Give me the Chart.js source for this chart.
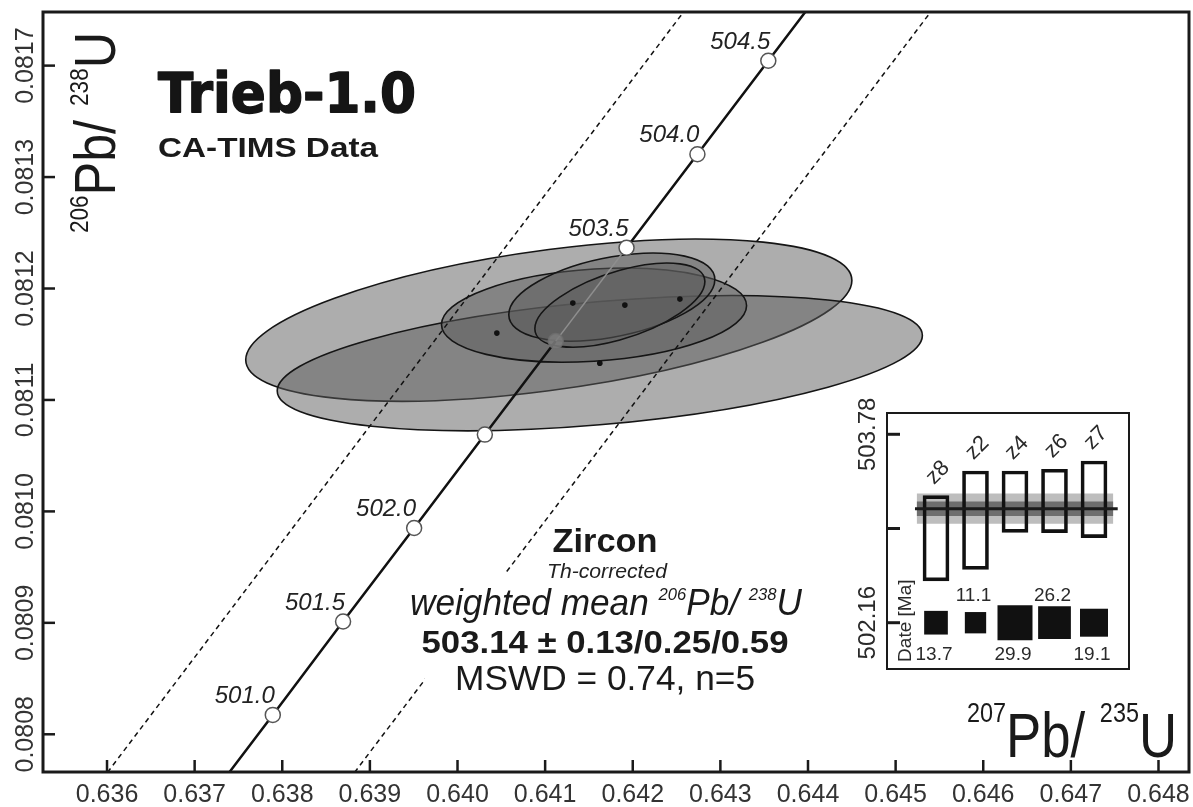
<!DOCTYPE html>
<html><head><meta charset="utf-8">
<script src="https://cdn.jsdelivr.net/npm/chart.js@4.4.0/dist/chart.umd.min.js"></script>
<style>
html,body{margin:0;padding:0;background:#fff;}
#wrap{position:relative;width:1193px;height:807px;overflow:hidden;}
#main{position:absolute;left:0;top:0;}
#inset{position:absolute;left:845px;top:395px;}
</style></head><body>
<div id="wrap"><canvas id="main" width="1193" height="807"></canvas><canvas id="inset" width="286" height="276"></canvas></div>
<script>
// ---------- data ----------
const xTickVals = [0.636,0.637,0.638,0.639,0.640,0.641,0.642,0.643,0.644,0.645,0.646,0.647,0.648];
const xTickLabels = ['0.636','0.637','0.638','0.639','0.640','0.641','0.642','0.643','0.644','0.645','0.646','0.647','0.648'];
const yTickVals = [0.0808,0.0809,0.0810,0.0811,0.0812,0.0813,0.0814];
const yTickLabels = ['0.0808','0.0809','0.0810','0.0811','0.0812','0.0813','0.0817'];

// concordia (age in Ma, 207Pb/235U, 206Pb/238U)
const concAges = [500.5,501.0,501.5,502.0,502.5,503.0,503.5,504.0,504.5,505.0];
const concX = [0.637085,0.637892,0.638694,0.639505,0.640312,0.641121,0.641929,0.642738,0.643547,0.644357];
const concY = [0.0807336,0.0808174,0.0809012,0.0809851,0.0810689,0.0811528,0.0812366,0.0813205,0.0814044,0.0814883];
const concLabels = ['','501.0','501.5','502.0','','','503.5','504.0','504.5',''];

// decay-constant envelope
const envLoX = [0.635695,0.642967];
const envLoY = [0.0807336,0.0814883];
const envHiX = [0.638515,0.645787];
const envHiY = [0.0807336,0.0814883];

// error ellipses: centre, half-extent in x and y, correlation
const ellX   = [0.641042,0.641624,0.641558,0.641761,0.641853];
const ellY   = [0.0811716,0.0811330,0.0811761,0.0811923,0.0811851];
const ellSX  = [0.0034589,0.0036815,0.0017409,0.0011758,0.0009703];
const ellSY  = [0.0000727,0.0000606,0.0000422,0.0000395,0.0000377];
const ellRho = [0.49,0.41,0.20,0.40,0.56];

// plotted centre points
const ptX = [0.640449,0.641316,0.641910,0.642538,0.641624];
const ptY = [0.0811600,0.0811869,0.0811851,0.0811905,0.0811330];

// inset: weighted mean plot
const grains = ['z8','z2','z4','z6','z7'];
const grainPos = [1,2,3,4,5];
const dateLo = [502.519,502.619,502.937,502.934,502.891];
const dateHi = [503.252,503.464,503.464,503.479,503.550];
const weights = [13.7,11.1,29.9,26.2,19.1];
const weightLabels = ['13.7','11.1','29.9','26.2','19.1'];
const meanAge = 503.14;
const bandInner = 0.062;
const bandOuter = 0.13;
const insetTickVals = [502.16,502.97,503.78];
const insetTickLabels = ['502.16','','503.78'];

// ---------- drawing ----------
const FAM = "'Liberation Sans', Arial, Helvetica, sans-serif";
Chart.defaults.font.family = FAM;

function fitText(ctx, text, x, y, width, font, align, color){
  ctx.save(); ctx.font = font;
  const w = ctx.measureText(text).width;
  ctx.translate(x, y); ctx.scale(width / w, 1);
  ctx.textAlign = align || 'left'; ctx.textBaseline = 'alphabetic';
  ctx.fillStyle = color || '#1a1a1a'; ctx.fillText(text, 0, 0);
  ctx.restore();
}
function richText(ctx, parts, x, y, width, rot, color){
  ctx.save(); ctx.translate(x, y); if (rot) ctx.rotate(rot);
  let total = 0;
  parts.forEach(p => { ctx.font = p.font; p.w = ctx.measureText(p.t).width; total += p.w; });
  ctx.scale(width / total, 1);
  ctx.textAlign = 'left'; ctx.textBaseline = 'alphabetic'; ctx.fillStyle = color || '#1a1a1a';
  let cx = 0;
  parts.forEach(p => { ctx.font = p.font; ctx.fillText(p.t, cx, -(p.raise || 0)); cx += p.w; });
  ctx.restore();
}

const ellipsePlugin = {
  id: 'ellipses',
  beforeDatasetsDraw(chart){
    const {ctx, chartArea: a, scales: {x, y}} = chart;
    ctx.save();
    ctx.beginPath(); ctx.rect(a.left, a.top, a.right - a.left, a.bottom - a.top); ctx.clip();
    for (let i = 0; i < ellX.length; i++){
      const cx = x.getPixelForValue(ellX[i]), cy = y.getPixelForValue(ellY[i]);
      const ux = x.getPixelForValue(ellX[i] + ellSX[i]) - cx;
      const dy = y.getPixelForValue(ellY[i] + ellSY[i]) - cy;
      const r = ellRho[i];
      ctx.save(); ctx.beginPath();
      ctx.transform(ux, dy * r, 0, dy * Math.sqrt(1 - r * r), cx, cy);
      ctx.arc(0, 0, 1, 0, Math.PI * 2);
      ctx.restore();
      ctx.fillStyle = 'rgba(92,92,92,0.5)'; ctx.fill();
      ctx.lineWidth = 1.6; ctx.strokeStyle = '#151515'; ctx.stroke();
    }
    ctx.restore();
  }
};

const decorPlugin = {
  id: 'decor',
  afterDraw(chart){
    const {ctx, chartArea: a, scales: {x, y}} = chart;
    ctx.save();
    // inward tick marks
    ctx.strokeStyle = '#1a1a1a'; ctx.lineWidth = 2.5;
    xTickVals.forEach(v => { const px = x.getPixelForValue(v); ctx.beginPath(); ctx.moveTo(px, a.bottom); ctx.lineTo(px, a.bottom - 12); ctx.stroke(); });
    yTickVals.forEach(v => { const py = y.getPixelForValue(v); ctx.beginPath(); ctx.moveTo(a.left, py); ctx.lineTo(a.left + 12, py); ctx.stroke(); });
    // frame
    ctx.lineWidth = 3; ctx.strokeRect(a.left, a.top, a.right - a.left, a.bottom - a.top);
    // y tick labels (rotated)
    ctx.fillStyle = '#333'; ctx.font = '25px ' + FAM; ctx.textAlign = 'center'; ctx.textBaseline = 'alphabetic';
    yTickVals.forEach((v, i) => {
      const py = y.getPixelForValue(v);
      ctx.save(); ctx.translate(a.left - 10, py); ctx.rotate(-Math.PI / 2); ctx.fillText(yTickLabels[i], 0, 0); ctx.restore();
    });
    // concordia age labels
    ctx.font = 'italic 24px ' + FAM; ctx.fillStyle = '#222'; ctx.textAlign = 'right';
    concAges.forEach((ag, i) => {
      if (!concLabels[i]) return;
      ctx.fillText(concLabels[i], x.getPixelForValue(concX[i]) + 2, y.getPixelForValue(concY[i]) - 12);
    });
    ctx.textAlign = 'left';
    // title
    ctx.save(); ctx.font = 'bold 55px "DejaVu Sans", ' + FAM; ctx.textAlign = 'left';
    const tw = ctx.measureText('Trieb-1.0').width;
    ctx.translate(158, 112); ctx.scale(258 / tw, 1);
    ctx.fillStyle = '#151515'; ctx.strokeStyle = '#151515'; ctx.lineWidth = 1.5; ctx.lineJoin = 'round';
    ctx.fillText('Trieb-1.0', 0, 0); ctx.strokeText('Trieb-1.0', 0, 0);
    ctx.restore();
    fitText(ctx, 'CA-TIMS Data', 158, 157, 220, 'bold 27px ' + FAM, 'left', '#1a1a1a');
    // axis titles
    richText(ctx, [
      {t:'207', font:'28px ' + FAM, raise:35},
      {t:'Pb/ ', font:'63px ' + FAM},
      {t:'235', font:'28px ' + FAM, raise:35},
      {t:'U', font:'63px ' + FAM}
    ], 967, 757, 210, 0, '#1a1a1a');
    richText(ctx, [
      {t:'206', font:'26px ' + FAM, raise:27},
      {t:'Pb/ ', font:'58px ' + FAM},
      {t:'238', font:'26px ' + FAM, raise:27},
      {t:'U', font:'58px ' + FAM}
    ], 115, 233, 201, -Math.PI / 2, '#1a1a1a');
    // result text block on white background
    ctx.fillStyle = '#fff'; ctx.fillRect(425, 572, 380, 128);
    fitText(ctx, 'Zircon', 605, 552, 105, 'bold 33px ' + FAM, 'center');
    fitText(ctx, 'Th-corrected', 607, 578, 120, 'italic 21px ' + FAM, 'center', '#222');
    richText(ctx, [
      {t:'weighted mean ', font:'italic 36px ' + FAM},
      {t:'206', font:'italic 17px ' + FAM, raise:15},
      {t:'Pb/ ', font:'italic 36px ' + FAM},
      {t:'238', font:'italic 17px ' + FAM, raise:15},
      {t:'U', font:'italic 36px ' + FAM}
    ], 410, 615, 392, 0, '#1a1a1a');
    fitText(ctx, '503.14 \u00b1 0.13/0.25/0.59', 605, 653, 367, 'bold 31px ' + FAM, 'center');
    fitText(ctx, 'MSWD = 0.74, n=5', 605, 690, 300, '35px ' + FAM, 'center');
    ctx.restore();
  }
};

new Chart(document.getElementById('main'), {
  type: 'scatter',
  data: { datasets: [
    { data: concAges.map((ag, i) => ({x: concX[i], y: concY[i]})), showLine: true,
      borderColor: '#111', borderWidth: 2.5,
      segment: {
        borderColor: c => concAges[c.p0DataIndex] === 503.0 ? '#8e8e8e' : '#111',
        borderWidth: c => concAges[c.p0DataIndex] === 503.0 ? 1.5 : 2.5
      },
      pointRadius: 7.5, pointBorderWidth: 1.5,
      pointBackgroundColor: concAges.map(ag => ag === 503.0 ? 'rgba(125,125,125,0.85)' : '#ffffff'),
      pointBorderColor: concAges.map(ag => ag === 503.0 ? 'rgba(110,110,110,0.8)' : '#555'),
      order: 1 },
    { data: envLoX.map((v, i) => ({x: v, y: envLoY[i]})), showLine: true, borderColor: '#111', borderWidth: 1.5, borderDash: [5, 4], pointRadius: 0, order: 3 },
    { data: envHiX.map((v, i) => ({x: v, y: envHiY[i]})), showLine: true, borderColor: '#111', borderWidth: 1.5, borderDash: [5, 4], pointRadius: 0, order: 3 },
    { data: ptX.map((v, i) => ({x: v, y: ptY[i]})), pointRadius: 2.8, pointBackgroundColor: '#111', pointBorderColor: '#111', pointBorderWidth: 0, order: 0 }
  ]},
  options: {
    responsive: false, animation: false, devicePixelRatio: 1, events: [],
    layout: { autoPadding: false, padding: { top: 12, right: 4, left: 0, bottom: 0 } },
    plugins: { legend: { display: false }, tooltip: { enabled: false } },
    scales: {
      x: { type: 'linear', position: 'bottom', min: 0.6352694, max: 0.6483482,
        afterBuildTicks: s => { s.ticks = xTickVals.map(v => ({value: v})); },
        afterFit: s => { s.height = 35; s.paddingLeft = 0; s.paddingRight = 0; },
        ticks: { callback: (v, i) => xTickLabels[i], font: { size: 25, family: FAM }, color: '#333', padding: 8, autoSkip: false, maxRotation: 0, minRotation: 0 },
        grid: { display: false, drawTicks: false }, border: { display: false } },
      y: { type: 'linear', position: 'left', min: 0.08076616, max: 0.08144811,
        afterFit: s => { s.width = 43; s.paddingTop = 0; s.paddingBottom = 0; },
        ticks: { display: false }, grid: { display: false, drawTicks: false }, border: { display: false } }
    }
  },
  plugins: [ellipsePlugin, decorPlugin]
});

// ---------- inset ----------
const insetPlugin = {
  id: 'insetDecor',
  beforeDraw(chart){
    const {ctx, chartArea: a} = chart;
    ctx.save(); ctx.fillStyle = '#fff'; ctx.fillRect(a.left, a.top, a.right - a.left, a.bottom - a.top); ctx.restore();
  },
  afterDraw(chart){
    const {ctx, chartArea: a, scales: {x, y}} = chart;
    ctx.save();
    ctx.strokeStyle = '#1a1a1a'; ctx.lineWidth = 2;
    ctx.strokeRect(a.left, a.top, a.right - a.left, a.bottom - a.top);
    ctx.lineWidth = 3;
    insetTickVals.forEach(v => { const py = y.getPixelForValue(v); ctx.beginPath(); ctx.moveTo(a.left, py); ctx.lineTo(a.left + 13, py); ctx.stroke(); });
    ctx.fillStyle = '#2a2a2a'; ctx.font = '24px ' + FAM; ctx.textAlign = 'center'; ctx.textBaseline = 'alphabetic';
    insetTickVals.forEach((v, i) => {
      if (!insetTickLabels[i]) return;
      ctx.save(); ctx.translate(a.left - 12, y.getPixelForValue(v)); ctx.rotate(-Math.PI / 2); ctx.fillText(insetTickLabels[i], 0, 0); ctx.restore();
    });
    // Date [Ma]
    ctx.save(); ctx.font = '19px ' + FAM; ctx.translate(a.left + 24, y.getPixelForValue(insetTickVals[0]) - 2); ctx.rotate(-Math.PI / 2); ctx.fillText('Date [Ma]', 0, 0); ctx.restore();
    // grain labels
    ctx.font = '22px ' + FAM; ctx.textBaseline = 'middle';
    grains.forEach((g, i) => {
      ctx.save(); ctx.translate(x.getPixelForValue(grainPos[i]) + 2, y.getPixelForValue(dateHi[i]) - 23); ctx.rotate(-Math.PI / 4); ctx.fillText(g, 0, 0); ctx.restore();
    });
    // weight labels
    ctx.font = '19px ' + FAM; ctx.textBaseline = 'alphabetic';
    const yb = y.getPixelForValue(insetTickVals[0]);
    weightLabels.forEach((t, i) => {
      const px = x.getPixelForValue(grainPos[i]) - 2;
      ctx.fillText(t, px, i % 2 ? yb - 22 : yb + 37);
    });
    ctx.restore();
  }
};

new Chart(document.getElementById('inset'), {
  type: 'bar',
  data: { datasets: [
    { type: 'line', data: [{x: 0.511, y: meanAge + bandOuter}, {x: 5.489, y: meanAge + bandOuter}], fill: '+1', backgroundColor: '#bdbdbd', borderWidth: 0, pointRadius: 0, order: 6 },
    { type: 'line', data: [{x: 0.511, y: meanAge - bandOuter}, {x: 5.489, y: meanAge - bandOuter}], fill: false, borderWidth: 0, pointRadius: 0, order: 6 },
    { type: 'line', data: [{x: 0.511, y: meanAge + bandInner}, {x: 5.489, y: meanAge + bandInner}], fill: '+1', backgroundColor: '#6e6e6e', borderWidth: 0, pointRadius: 0, order: 5 },
    { type: 'line', data: [{x: 0.511, y: meanAge - bandInner}, {x: 5.489, y: meanAge - bandInner}], fill: false, borderWidth: 0, pointRadius: 0, order: 5 },
    { type: 'bar', data: grainPos.map((p, i) => ({x: p, y: [dateLo[i], dateHi[i]]})), backgroundColor: 'rgba(255,255,255,0)', borderColor: '#111', borderWidth: 3, borderSkipped: false, barThickness: 26, order: 3 },
    { type: 'line', data: [{x: 0.468, y: meanAge}, {x: 5.6, y: meanAge}], borderColor: '#1a1a1a', borderWidth: 3, pointRadius: 0, order: 2 },
    { type: 'scatter', data: grainPos.map(p => ({x: p, y: insetTickVals[0]})), pointStyle: 'rect',
      pointRadius: c => 6.4 * Math.sqrt(weights[c.dataIndex]) / Math.SQRT2, backgroundColor: '#111', borderColor: '#111', borderWidth: 0, order: 1 }
  ]},
  options: {
    responsive: false, animation: false, devicePixelRatio: 1, events: [],
    layout: { autoPadding: false, padding: { left: 42, top: 18, right: 2, bottom: 2 } },
    plugins: { legend: { display: false }, tooltip: { enabled: false } },
    scales: {
      x: { type: 'linear', min: -0.2405, max: 5.886, offset: false, display: false },
      y: { type: 'linear', min: 501.762, max: 503.963, display: false }
    }
  },
  plugins: [insetPlugin]
});
</script>
</body></html>
